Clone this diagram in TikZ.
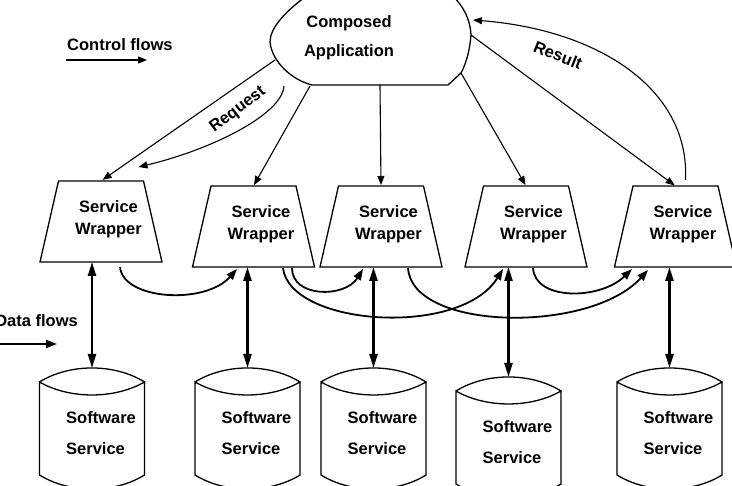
\documentclass[tikz,border=0pt]{standalone}
\usepackage{fontspec}
\setmainfont{Liberation Sans}
\usetikzlibrary{arrows.meta,calc}
\tikzset{
  shapeline/.style={draw=black, line width=1.3pt, line join=miter},
  wraptext/.style={inner sep=0pt, align=center, font=\bfseries\fontsize{16.5}{21.5}\selectfont},
  cyltext/.style={inner sep=0pt, align=left, font=\bfseries\fontsize{16.5}{31}\selectfont},
  apptext/.style={inner sep=0pt, align=center, font=\bfseries\fontsize{16.5}{29}\selectfont},
  lbl/.style={inner sep=0pt, font=\bfseries\fontsize{16.5}{20}\selectfont},
  ctrl/.style={line width=1.1pt, -{Triangle[length=9pt,width=7pt]}},
  dataflow/.style={line width=2.2pt, {Triangle[length=14pt,width=8pt]}-{Triangle[length=14pt,width=8pt]}},
  datacurve/.style={line width=1.8pt, -{Triangle[length=11pt,width=8pt]}},
}
\newcommand\mkwrapper[3]{%
  \coordinate (#1-tl) at (#2-42.5,#3);
  \coordinate (#1-tr) at (#2+42.5,#3);
  \coordinate (#1-bl) at (#2-61,#3+81);
  \coordinate (#1-br) at (#2+61,#3+81);
  \coordinate (#1-top) at (#2,#3);
  \draw[shapeline] (#1-bl) -- (#1-tl) -- (#1-tr) -- (#1-br) -- cycle;
  \node[wraptext] (#1) at (#2+7.5,#3+38) {Service\\Wrapper};
}
\newcommand\mkcyl[3]{%
  \coordinate (#1-top) at (#2,#3);
  \draw[shapeline] (#2-52.5,#3+14) .. controls (#2-22.5,#3-4.7) and (#2+22.5,#3-4.7) .. (#2+52.5,#3+14)
     .. controls (#2+22.5,#3+31.3) and (#2-22.5,#3+31.3) .. (#2-52.5,#3+14)
     -- (#2-52.5,#3+107) .. controls (#2-22.5,#3+125.7) and (#2+22.5,#3+125.7) .. (#2+52.5,#3+107)
     -- (#2+52.5,#3+14);
  \node[cyltext, anchor=west] (#1) at (#2-26,#3+65.5) {Software\\Service};
}
\begin{document}
\begin{tikzpicture}[x=1pt,y=-1pt]
\useasboundingbox (0,0) rectangle (732,486);
\clip (0,0) rectangle (732,486);

% composed application cloud
\draw[shapeline] (312,85) -- (448,85) -- (461,73)
  .. controls (467,62) and (470,48) .. (471,35)
  .. controls (470,18) and (463,6) .. (452,-5)
  .. controls (420,-30) and (330,-30) .. (305,-3)
  .. controls (285,12) and (270,28) .. (270,42)
  .. controls (272,62) and (292,80) .. (312,85) -- cycle;
\node[apptext] (app) at (349,38) {Composed\\Application};
\coordinate (c1) at (275,60);
\coordinate (c2) at (310,86);
\coordinate (c3) at (380,85);
\coordinate (c4) at (461,73);
\coordinate (c5) at (471,35);
\coordinate (creq) at (284,86);
\coordinate (cres) at (473,20);

% wrappers
\mkwrapper{w1}{101}{181}
\mkwrapper{w2}{253.5}{186}
\mkwrapper{w3}{381}{186}
\mkwrapper{w4}{526}{186}
\mkwrapper{w5}{675.5}{186}

% software services
\mkcyl{s1}{92}{368}
\mkcyl{s2}{247.5}{368}
\mkcyl{s3}{373.5}{368}
\mkcyl{s4}{508.5}{377}
\mkcyl{s5}{669.5}{368}

% legend
\node[lbl, anchor=west] (cflbl) at (67,45) {Control flows};
\coordinate (cfa) at (66,60);
\coordinate (cfb) at (147,60);
\draw[ctrl] (cfa) -- (cfb);
\node[lbl, anchor=east] (dflbl) at (78,321) {Data flows};
\coordinate (dfa) at (-2,344);
\coordinate (dfb) at (57,344);
\draw[datacurve] (dfa) -- (dfb);

% control flows
\draw[ctrl, shorten >=2pt] (c1) -- (w1-top);
\draw[ctrl, shorten >=1pt] (c2) -- (w2-top);
\draw[ctrl, shorten >=1pt] (c3) -- (w3-top);
\draw[ctrl, shorten >=1pt] (c4) -- (w4-top);
\draw[ctrl, shorten >=1pt] (c5) -- (w5-top);
\coordinate (reqend) at ($(w1-tr)+(-5,-14)$);
\draw[ctrl] (creq) .. controls (282,115) and (210,150) .. (reqend);
\node[lbl, rotate=37] (req) at (238,110) {Request};
\coordinate (resstart) at ($(w5-top)+(10,-6)$);
\draw[ctrl] (resstart) .. controls (690,90) and (600,30) .. (cres);
\node[lbl, rotate=-22] (res) at (558,55) {Result};

% data flows (vertical)
\draw[dataflow] (s1-top) -- (s1-top |- w1-bl);
\draw[dataflow] (s2-top) -- (s2-top |- w2-bl);
\draw[dataflow] (s3-top) -- (s3-top |- w3-bl);
\draw[dataflow] (s4-top) -- (s4-top |- w4-bl);
\draw[dataflow] (s5-top) -- (s5-top |- w5-bl);

% data flows (curved between wrappers)
\coordinate (a0) at ($(w1-bl)+(80,5)$);
\coordinate (a1) at ($(w2-bl)+(44.5,2)$);
\draw[datacurve] (a0) .. controls +(3,33) and +(-32,36) .. (a1);
\coordinate (b0) at ($(w2-bl)+(99.5,1)$);
\coordinate (b1) at ($(w3-bl)+(43,2)$);
\draw[datacurve] (b0) .. controls +(0,30) and +(-18,29) .. (b1);
\coordinate (d0) at ($(w2-bl)+(90.5,1)$);
\coordinate (d1) at ($(w4-bl)+(38,2)$);
\draw[datacurve] (d0) .. controls +(7,58) and +(-43,69) .. (d1);
\coordinate (e0) at ($(w3-bl)+(88,1)$);
\coordinate (e1) at ($(w5-bl)+(33.5,3)$);
\draw[datacurve] (e0) .. controls +(4,63) and +(-58,64) .. (e1);
\coordinate (f0) at ($(w4-bl)+(68,1)$);
\coordinate (f1) at ($(w5-bl)+(17.5,2)$);
\draw[datacurve] (f0) .. controls +(2,33) and +(-32,31) .. (f1);
\end{tikzpicture}
\end{document}
